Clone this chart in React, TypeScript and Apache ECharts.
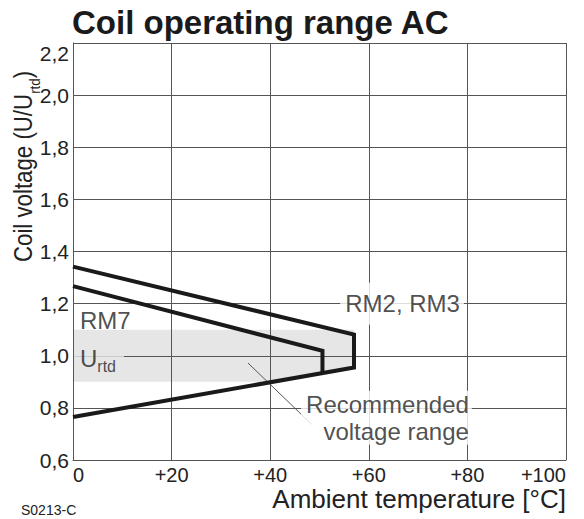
import React, { useEffect, useRef } from "react";
import * as echarts from "echarts";

// Axis ranges / ticks
const tempMin = 0;
const tempMax = 100;
const tempStep = 20;
const voltMin = 0.6;
const voltMax = 2.2;
const voltStep = 0.2;

// RM2, RM3 operating range outline (temperature °C, U/Urtd)
const rm23Temp = [0, 57, 57, 0];
const rm23Volt = [1.342, 1.081, 0.955, 0.765];

// RM7 upper limit outline
const rm7Temp = [0, 50.6, 50.6];
const rm7Volt = [1.267, 1.019, 0.935];

// Recommended voltage range band
const bandTemp = [0, 57, 57, 40.5, 0];
const bandVolt = [1.1, 1.1, 0.955, 0.9, 0.9];

// Leader line from "Recommended voltage range" into the band
const leaderTemp = [35.5, 48.4];
const leaderVolt = [0.972, 0.737];

// Annotation anchors
const noteNames = ["RM7", "Urtd", "RM2, RM3", "Recommended voltage range"];
const noteTemp = [1.4, 0.2, 54.2, 80.9];
const noteVolt = [1.137, 0.991, 1.2, 0.762];

const sans = "'Liberation Sans', Arial, sans-serif";
const gridColor = "#555555";
const inkColor = "#1a1a1a";
const textColor = "#222222";

const zip = (xs: number[], ys: number[]) => xs.map((x, i) => [x, ys[i]]);

function measure(text: string, font: string): number {
  const c = document.createElement("canvas");
  const ctx = c.getContext("2d");
  if (!ctx) return text.length * 10;
  ctx.font = font;
  return ctx.measureText(text).width;
}

export default function App() {
  const ref = useRef<HTMLDivElement>(null);

  useEffect(() => {
    if (!ref.current) return;
    const chart = echarts.init(ref.current, null, { renderer: "svg" });

    const nameFont = "25px 'Liberation Sans', Arial, sans-serif";
    const subFont = "15px 'Liberation Sans', Arial, sans-serif";
    const namePart1 = "Coil voltage (U/U";
    const namePart2 = "rtd";
    const namePart3 = ")";
    const w1 = measure(namePart1, nameFont);
    const w2 = measure(namePart2, subFont);

    const noteLabels: any[] = [
      {
        show: true,
        position: [0, 0],
        align: "left",
        verticalAlign: "middle",
        fontFamily: sans,
        fontSize: 24,
        color: textColor,
        formatter: "RM7",
      },
      {
        show: true,
        position: [0, 0],
        align: "left",
        verticalAlign: "middle",
        fontFamily: sans,
        color: textColor,
        backgroundColor: "#e6e6e6",
        padding: [0, 8, 0, 6],
        formatter: "{u|U}{s|rtd}",
        rich: {
          u: { fontFamily: sans, fontSize: 24, lineHeight: 24, verticalAlign: "top", color: textColor },
          s: { fontFamily: sans, fontSize: 16, lineHeight: 16, verticalAlign: "top", padding: [12, 0, 0, 0], color: textColor },
        },
      },
      {
        show: true,
        position: [0, 0],
        align: "left",
        verticalAlign: "middle",
        fontFamily: sans,
        fontSize: 24,
        color: textColor,
        backgroundColor: "#ffffff",
        padding: [10, 4, 8, 5],
        formatter: "RM2, RM3",
      },
      {
        show: true,
        position: [0, 0],
        align: "right",
        verticalAlign: "middle",
        fontFamily: sans,
        fontSize: 24,
        lineHeight: 27,
        color: textColor,
        backgroundColor: "#ffffff",
        padding: [0, 3, 0, 5],
        formatter: "Recommended\nvoltage range",
      },
    ];

    chart.setOption({
      animation: false,
      grid: { left: 73, right: 18, top: 43, bottom: 59, containLabel: false },
      xAxis: {
        type: "value",
        min: tempMin,
        max: tempMax,
        interval: tempStep,
        axisLine: { show: true, lineStyle: { color: gridColor, width: 1 } },
        axisTick: { show: false },
        splitLine: { show: true, lineStyle: { color: gridColor, width: 1 } },
        axisLabel: {
          margin: 6,
          fontFamily: sans,
          fontSize: 20,
          lineHeight: 18,
          color: textColor,
          alignMinLabel: "left",
          alignMaxLabel: "right",
          formatter: (v: number) => (v === 0 ? "0" : "+" + v),
        },
      },
      yAxis: {
        type: "value",
        min: voltMin,
        max: voltMax,
        interval: voltStep,
        axisLine: { show: true, lineStyle: { color: gridColor, width: 1 } },
        axisTick: { show: false },
        splitLine: { show: true, lineStyle: { color: gridColor, width: 1 } },
        axisLabel: {
          margin: 4,
          fontFamily: sans,
          fontSize: 21,
          color: textColor,
          verticalAlignMaxLabel: "top",
          formatter: (v: number) => v.toFixed(1).replace(".", ","),
        },
      },
      series: [
        {
          type: "custom",
          name: "band",
          z: -1,
          silent: true,
          data: [[bandTemp[0], bandVolt[0]]],
          renderItem: (_params: any, api: any) => ({
            type: "polygon",
            shape: { points: bandTemp.map((t, i) => api.coord([t, bandVolt[i]])) },
            style: { fill: "#e6e6e6" },
          }),
        },
        {
          type: "line",
          name: "leader",
          data: zip(leaderTemp, leaderVolt),
          symbol: "none",
          silent: true,
          lineStyle: { color: "#555555", width: 1 },
        },
        {
          type: "line",
          name: "RM2, RM3",
          data: zip(rm23Temp, rm23Volt),
          symbol: "none",
          silent: true,
          lineStyle: { color: inkColor, width: 4, join: "miter" },
        },
        {
          type: "line",
          name: "RM7",
          data: zip(rm7Temp, rm7Volt),
          symbol: "none",
          silent: true,
          lineStyle: { color: inkColor, width: 4, join: "miter" },
        },
        {
          type: "scatter",
          name: "notes",
          z: 5,
          symbolSize: 0,
          silent: true,
          data: noteNames.map((n, i) => ({
            name: n,
            value: [noteTemp[i], noteVolt[i]],
            label: noteLabels[i],
          })),
        },
      ],
      graphic: [
        {
          type: "text",
          x: 72,
          y: 22.5,
          style: {
            text: "Coil operating range AC",
            font: "bold 33px 'Liberation Sans', Arial, sans-serif",
            fill: inkColor,
            textAlign: "left",
            textVerticalAlign: "middle",
          },
        },
        {
          type: "group",
          x: 24,
          y: 262,
          rotation: Math.PI / 2,
          scaleX: 0.89,
          children: [
            {
              type: "text",
              x: 0,
              y: 0,
              style: {
                text: namePart1,
                font: nameFont,
                fill: textColor,
                textAlign: "left",
                textVerticalAlign: "middle",
              },
            },
            {
              type: "text",
              x: w1,
              y: 11,
              style: {
                text: namePart2,
                font: subFont,
                fill: textColor,
                textAlign: "left",
                textVerticalAlign: "middle",
              },
            },
            {
              type: "text",
              x: w1 + w2,
              y: 0,
              style: {
                text: namePart3,
                font: nameFont,
                fill: textColor,
                textAlign: "left",
                textVerticalAlign: "middle",
              },
            },
          ],
        },
        {
          type: "text",
          x: 566,
          y: 499,
          style: {
            text: "Ambient temperature [°C]",
            font: "26px 'Liberation Sans', Arial, sans-serif",
            lineHeight: 20,
            fill: textColor,
            textAlign: "right",
            textVerticalAlign: "middle",
          },
        },
        {
          type: "text",
          x: 21,
          y: 509.5,
          style: {
            text: "S0213-C",
            font: "14px 'Liberation Sans', Arial, sans-serif",
            fill: textColor,
            textAlign: "left",
            textVerticalAlign: "middle",
          },
        },
      ],
    });

    return () => chart.dispose();
  }, []);

  return (
    <div
      ref={ref}
      style={{ position: "absolute", left: 0, top: 0, width: 584, height: 519 }}
    />
  );
}
